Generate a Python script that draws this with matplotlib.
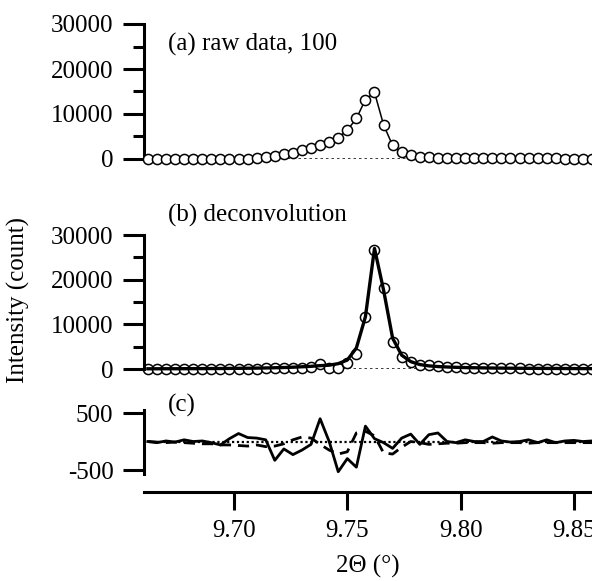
import matplotlib
matplotlib.use('Agg')
import matplotlib.pyplot as plt

plt.rcParams['font.family'] = ['Liberation Serif', 'DejaVu Serif']

two_theta = [9.662, 9.666, 9.670, 9.674, 9.678, 9.682, 9.686, 9.690, 9.694, 9.698,
             9.702, 9.706, 9.710, 9.714, 9.718, 9.722, 9.726, 9.730, 9.734, 9.738,
             9.742, 9.746, 9.750, 9.754, 9.758, 9.762, 9.766, 9.770, 9.774, 9.778,
             9.782, 9.786, 9.790, 9.794, 9.798, 9.802, 9.806, 9.810, 9.814, 9.818,
             9.822, 9.826, 9.830, 9.834, 9.838, 9.842, 9.846, 9.850, 9.854, 9.858]

raw_data = [0, 0, 0, 0, 0, 0, 0, 0, 50, 50,
            80, 100, 150, 350, 600, 1000, 1350, 1900, 2500, 3050,
            3750, 4750, 6400, 9000, 13200, 14800, 7600, 3000, 1450, 900,
            500, 350, 300, 250, 220, 200, 200, 180, 170, 160,
            150, 150, 140, 130, 120, 120, 110, 100, 100, 100]

deconv_data = [0, 0, 0, 0, 0, 0, 0, 0, 0, 0,
               0, 0, 100, 150, 150, 150, 150, 150, 500, 1100,
               150, 150, 1400, 3350, 11700, 26600, 18200, 6100, 2750, 1500,
               1000, 900, 750, 500, 400, 300, 250, 200, 200, 150,
               150, 120, 100, 100, 100, 80, 80, 60, 50, 50]

deconv_fit = [50, 50, 60, 60, 70, 80, 90, 100, 110, 130,
              150, 170, 200, 230, 280, 330, 400, 500, 600, 750,
              850, 1200, 2000, 4700, 11700, 27000, 17700, 6900, 3100, 1650,
              1000, 700, 550, 450, 380, 320, 280, 250, 220, 200,
              180, 160, 150, 140, 130, 120, 110, 100, 90, 80]

residual_solid = [0, -20, 10, -10, 30, 0, 10, -20, -60, 50,
                  140, 70, 60, 30, -330, -130, -230, -150, -50, 400,
                  0, -530, -300, -450, 270, 50, -20, -120, 60, 130,
                  -50, 120, 150, 0, -20, 30, 0, 0, 80, 10,
                  -10, 0, 30, -20, 30, -20, 10, 20, 0, 10]

residual_dashed = [0, -10, -20, -10, -20, -30, -40, -40, -60, -60,
                   -70, -80, -60, -90, -80, -40, 30, 80, 60, -50,
                   -150, -220, -180, 150, 180, 100, -200, -220, -100, 0,
                   -20, -50, -40, -30, -30, -20, -20, -20, -30, -20,
                   -20, -20, -30, -20, -20, -20, -20, -20, -20, -20]

y_ticks_int = [0, 10000, 20000, 30000]
y_minor_int = [5000, 15000, 25000]
y_ticks_res = [-500, 500]
x_ticks = [9.70, 9.75, 9.80, 9.85]
x_ticklabels = ['9.70', '9.75', '9.80', '9.85']

W, H = 592, 581
fig = plt.figure(figsize=(W / 100, H / 100), dpi=100)

def frac(x0, ytop, ybot):
    return [x0 / W, (H - ybot) / H, (W - x0) / W, (ybot - ytop) / H]

xlim = (9.66028, 9.85799)
FS = 18
tw = 2.2
MS = 7.3

ax_a = fig.add_axes(frac(144, 24, 159))
ax_b = fig.add_axes(frac(144, 235, 369))
ax_c = fig.add_axes(frac(144, 410, 474))

for ax in (ax_a, ax_b, ax_c):
    ax.set_xlim(*xlim)
    ax.patch.set_visible(False)
    for s in ('top', 'right'):
        ax.spines[s].set_visible(False)
    ax.spines['left'].set_linewidth(tw)
    ax.tick_params(axis='y', which='major', direction='out', length=15, width=tw,
                   labelsize=FS, pad=7)
    ax.tick_params(axis='y', which='minor', direction='out', length=8, width=tw)

for ax in (ax_a, ax_b):
    ax.spines['bottom'].set_visible(False)
    ax.set_xticks([])
    ax.set_ylim(0, 30000)
    ax.set_yticks(y_ticks_int)
    ax.set_yticklabels([str(v) for v in y_ticks_int])
    ax.set_yticks(y_minor_int, minor=True)
    ax.axhline(0, color='black', linestyle=(0, (1, 1.2)), linewidth=1.8, zorder=1)

# (a) raw data
ax_a.plot(two_theta, raw_data, color='black', linewidth=1.1, zorder=2, clip_on=False)
ax_a.plot(two_theta, raw_data, linestyle='none', marker='o', markersize=MS,
          markerfacecolor='white', markeredgecolor='black', markeredgewidth=1.1,
          zorder=3, clip_on=False)
ax_a.text(9.671, 25500, '(a) raw data, 100', fontsize=FS, va='center', ha='left')

# (b) deconvolution
ax_b.plot(two_theta, deconv_data, linestyle='none', marker='o', markersize=MS,
          markerfacecolor='white', markeredgecolor='black', markeredgewidth=1.1,
          zorder=2, clip_on=False)
ax_b.plot(two_theta, deconv_fit, color='black', linewidth=2.4, zorder=3, clip_on=False)
ax_b.text(9.671, 34300, '(b) deconvolution', fontsize=FS, va='center', ha='left',
          clip_on=False)

# (c) residuals
ax_c.set_ylim(-570, 553)
ax_c.axhline(0, color='black', linestyle=(0, (1, 1.2)), linewidth=1.6, zorder=1)
ax_c.plot(two_theta, residual_dashed, color='black', linestyle=(0, (4, 2.5)),
          linewidth=2.0, zorder=2)
ax_c.plot(two_theta, residual_solid, color='black', linewidth=2.0, zorder=3)
ax_c.set_yticks(y_ticks_res)
ax_c.set_yticklabels([str(v) for v in y_ticks_res])
ax_c.text(9.671, 630, '(c)', fontsize=FS, va='center', ha='left', clip_on=False)

ax_c.spines['bottom'].set_position(('outward', 13))
ax_c.spines['bottom'].set_linewidth(tw)
ax_c.set_xticks(x_ticks)
ax_c.set_xticklabels(x_ticklabels)
ax_c.tick_params(axis='x', which='major', direction='out', length=13, width=tw,
                 labelsize=FS, pad=7)

fig.text(18 / W, 1 - 300 / H, 'Intensity (count)', rotation=90, fontsize=FS,
         va='center', ha='center')
fig.text(368 / W, 1 - 566 / H, '2Θ (°)', fontsize=FS, va='center', ha='center')

fig.savefig('out.png', dpi=100)
